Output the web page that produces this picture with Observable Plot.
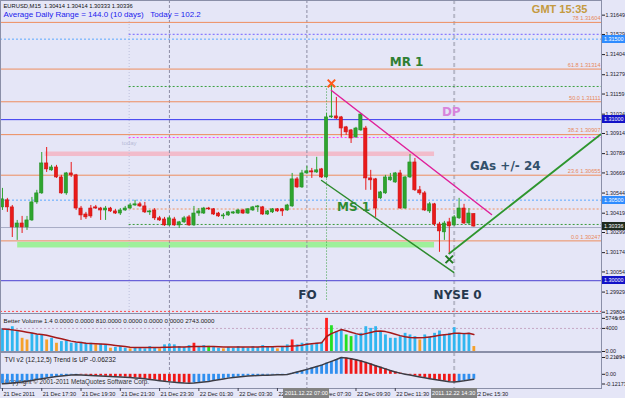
<!DOCTYPE html>
<html><head><meta charset="utf-8">
<script src="https://cdn.jsdelivr.net/npm/d3@7"></script>
<script src="https://cdn.jsdelivr.net/npm/@observablehq/plot@0.6"></script>
<style>
html,body{margin:0;padding:0;background:#e5e6f7;}
#wrap{position:relative;width:625px;height:398px;overflow:hidden;background:#e5e6f7;font-family:"Liberation Sans",Arial,sans-serif;}
.tag{position:absolute;color:#fff;white-space:nowrap;overflow:hidden;}
</style></head><body><div id="wrap"></div>
<script>
// ---------- DATA ----------
const open  = [1.30455,1.30499,1.30455,1.30331,1.30355,1.30331,1.30374,1.30486,1.30542,1.30728,
1.30685,1.30703,1.30641,1.30542,1.30666,1.30654,1.30448,1.30411,1.30448,1.30455,
1.30448,1.30436,1.30448,1.30430,1.30417,1.30436,1.30448,1.30467,1.30474,1.30461,
1.30424,1.30436,1.30387,1.30380,1.30343,1.30380,1.30343,1.30362,1.30393,1.30343,
1.30417,1.30417,1.30448,1.30443,1.30417,1.30399,1.30405,1.30417,1.30417,1.30436,
1.30417,1.30436,1.30455,1.30455,1.30411,1.30424,1.30443,1.30443,1.30436,1.30461,
1.30629,1.30579,1.30666,1.30679,1.30672,1.30691,1.30641,1.31014,1.31020,1.31014,
1.30952,1.30933,1.30890,1.30933,1.30945,1.30635,1.30629,1.30511,1.30542,1.30623,
1.30610,1.30666,1.30448,1.30641,1.30734,1.30561,1.30542,1.30430,1.30474,1.30349,
1.30300,1.30362,1.30343,1.30387,1.30448,1.30355,1.30414];
const high  = [1.30573,1.30511,1.30467,1.30374,1.30399,1.30399,1.30517,1.30561,1.30796,1.30827,
1.30716,1.30716,1.30654,1.30672,1.30734,1.30660,1.30461,1.30424,1.30467,1.30467,
1.30455,1.30461,1.30455,1.30443,1.30448,1.30461,1.30480,1.30499,1.30486,1.30486,
1.30436,1.30448,1.30399,1.30393,1.30399,1.30393,1.30368,1.30399,1.30405,1.30461,
1.30448,1.30455,1.30455,1.30448,1.30424,1.30417,1.30430,1.30430,1.30443,1.30443,
1.30448,1.30461,1.30467,1.30461,1.30436,1.30448,1.30448,1.30448,1.30474,1.30666,
1.30641,1.30685,1.30710,1.30697,1.30766,1.30697,1.31038,1.31219,1.31138,1.31020,
1.30958,1.30939,1.30952,1.31038,1.30958,1.30685,1.30635,1.30554,1.30654,1.30666,
1.30672,1.30685,1.30648,1.30784,1.30759,1.30585,1.30554,1.30486,1.30480,1.30362,
1.30368,1.30387,1.30405,1.30511,1.30474,1.30448,1.30414];
const low   = [1.30436,1.30424,1.30268,1.30250,1.30293,1.30312,1.30368,1.30474,1.30536,1.30672,
1.30679,1.30635,1.30536,1.30530,1.30641,1.30436,1.30374,1.30380,1.30387,1.30443,
1.30374,1.30374,1.30424,1.30411,1.30405,1.30430,1.30443,1.30461,1.30455,1.30417,
1.30405,1.30374,1.30368,1.30337,1.30337,1.30337,1.30324,1.30355,1.30337,1.30337,
1.30399,1.30411,1.30436,1.30405,1.30393,1.30380,1.30399,1.30411,1.30411,1.30411,
1.30411,1.30430,1.30424,1.30405,1.30405,1.30417,1.30424,1.30399,1.30430,1.30455,
1.30573,1.30573,1.30660,1.30635,1.30666,1.30635,1.30635,1.31007,1.31001,1.30890,
1.30902,1.30852,1.30883,1.30927,1.30561,1.30561,1.30393,1.30505,1.30536,1.30617,
1.30604,1.30443,1.30443,1.30635,1.30554,1.30530,1.30430,1.30417,1.30337,1.30176,
1.30250,1.30163,1.30337,1.30380,1.30349,1.30343,1.30333];
const close = [1.30505,1.30455,1.30331,1.30355,1.30331,1.30374,1.30486,1.30542,1.30728,1.30691,
1.30703,1.30641,1.30542,1.30666,1.30654,1.30448,1.30405,1.30393,1.30399,1.30448,
1.30436,1.30448,1.30430,1.30417,1.30436,1.30448,1.30467,1.30474,1.30461,1.30424,
1.30430,1.30387,1.30374,1.30343,1.30387,1.30343,1.30362,1.30387,1.30343,1.30417,
1.30430,1.30448,1.30443,1.30411,1.30399,1.30405,1.30424,1.30424,1.30436,1.30417,
1.30443,1.30455,1.30461,1.30411,1.30430,1.30443,1.30430,1.30430,1.30467,1.30629,
1.30579,1.30666,1.30679,1.30672,1.30685,1.30641,1.31014,1.31020,1.31007,1.30945,
1.30921,1.30883,1.30945,1.31032,1.30635,1.30623,1.30448,1.30548,1.30641,1.30641,
1.30666,1.30448,1.30641,1.30734,1.30561,1.30542,1.30436,1.30474,1.30349,1.30306,
1.30355,1.30337,1.30393,1.30448,1.30355,1.30417,1.30336];

const volume = [3900,3900,4300,3440,2290,2000,3150,2870,2870,2000,
2290,1430,1720,1830,1430,1430,1600,1430,1430,1150,
1260,1150,570,690,860,570,460,690,570,460,
860,690,460,1150,1260,1150,860,690,1030,1430,
860,1030,900,690,570,460,690,570,860,690,
570,860,690,1030,860,690,460,690,1150,2000,
1150,1430,1430,1150,1430,1600,5746.65,4470,3440,3720,
2870,2580,2870,3150,4300,4010,4300,3440,2870,2290,
2290,2580,3150,2870,2580,2000,2870,2580,3150,3550,
2870,3150,4120,3150,3150,3150,860];
const volumeType = "bbbboobbbo"+"bobbbbbbbo"+"bbobbbobbb"+"bbobbbbbbr"+"bbgbbobbbb"+"bbbbbbobbr"+"bbbbbbrgbb"+"ggbbbbbbbb"+"bbbbbobbbb"+"bbbbbbo";
const volumeMA = [3900,3850,3750,3650,3500,3350,3200,3050,2950,2800,
2600,2400,2200,2000,1800,1650,1550,1450,1400,1350,
1300,1250,1150,1050,950,850,750,700,680,680,
680,690,700,720,740,760,780,800,820,850,
860,860,860,850,830,800,790,780,780,790,
800,800,800,820,830,840,850,860,880,950,
1000,1100,1250,1350,1430,1500,2600,3100,3450,3800,
3600,3350,3100,2900,3100,3300,3500,3550,3450,3250,
3000,2750,2550,2420,2400,2400,2420,2500,2650,2800,
2900,3000,3150,3150,3100,3150,2950];
const volumeTicks = [5746.65,4000,0];
const volumeTickLabels = ["5746.65","4000","0.00"];

const tvi = [-0.120,-0.115,-0.110,-0.104,-0.097,-0.088,-0.078,-0.066,-0.055,-0.045,
-0.036,-0.029,-0.022,-0.016,-0.010,-0.006,-0.008,-0.011,-0.015,-0.019,
-0.022,-0.025,-0.027,-0.030,-0.033,-0.036,-0.040,-0.045,-0.050,-0.057,
-0.064,-0.072,-0.080,-0.088,-0.095,-0.101,-0.106,-0.110,-0.112,-0.109,
-0.104,-0.097,-0.089,-0.079,-0.068,-0.058,-0.048,-0.040,-0.033,-0.027,
-0.022,-0.018,-0.015,-0.013,-0.011,-0.009,-0.007,-0.005,-0.002,0.012,
0.028,0.045,0.062,0.080,0.097,0.115,0.140,0.162,0.185,0.211,
0.205,0.195,0.182,0.168,0.150,0.130,0.108,0.088,0.068,0.048,
0.030,0.015,0.002,-0.010,-0.022,-0.033,-0.044,-0.055,-0.065,-0.075,
-0.084,-0.092,-0.098,-0.090,-0.082,-0.072,-0.06232];
const tviTicks = [0.21094,0,-0.12173];
const tviTickLabels = ["0.21094","0.00","-0.12173"];

const priceTicks = [1.31649,1.31529,1.31404,1.31279,1.31159,1.31034,1.30914,1.30789,1.30669,1.30544,1.30419,1.30299,1.30174,1.30054,1.29929,1.29804];
const fibPrices = [1.31604,1.31314,1.31111,1.30907,1.30655,1.30247];
const fibNames  = ["78","61.8","50.0","38.2","23.6","0.0"];
const tagPrices = [1.31500,1.31000,1.30500,1.30336,1.30000];
const timeBars   = [0,8,16,24,32,40,48,56,64,72,80,88,96];
const timeLabels = ["21 Dec 2011","21 Dec 17:30","21 Dec 19:30","21 Dec 21:30","21 Dec 23:30","22 Dec 01:30","22 Dec 03:30","22 Dec 05:30","22 Dec 07:30","22 Dec 09:30","22 Dec 11:30","22 Dec 13:30","22 Dec 15:30"];
const timeTagBars = [62,92];
const timeTagLabels = ["2011.12.22 07:00","2011.12.22 14:30"];
const separatorBars = [34,62];
const nyseBar = 92, todayBar = 25.8;
const pivotPrices = [1.31529,1.31206,1.30889,1.30445,1.30349];
const bidPrice = 1.30330;
const todayBand = {from:8.7, to:88, lo:1.30771, hi:1.30799};
const supportBand = {from:3.1, to:88, lo:1.30203, hi:1.30238};
const channelTop = [{bar:67,price:1.31181},{bar:99.6,price:1.30411}];
const channelBottom = [{bar:65,price:1.30622},{bar:91.9,price:1.30051}];
const gasLine = [{bar:91,price:1.30169},{bar:121.8,price:1.30908}];
const crossHigh = {bar:67,price:1.31225};
const crossLow = {bar:91,price:1.30132};
const foLine = {bar:66,top:1.31190,bottom:1.29877};
const notes = [
 {label:"MR 1",bar:82.3,price:1.31355},
 {label:"DP",bar:91.4,price:1.31044},
 {label:"GAs +/- 24",bar:102.4,price:1.30709},
 {label:"MS 1",bar:71.5,price:1.30455},
 {label:"FO",bar:62.1,price:1.29908},
 {label:"NYSE 0",bar:92.7,price:1.29908}];
const noteColors = ["#2f7f33","#d884dc","#33506b","#2e8b34","#26384e","#26384e"];

// ---------- BUILD ----------
const F = "'Liberation Sans', Arial, sans-serif";
const candles = open.map((o,i)=>({i,o,h:high[i],l:low[i],c:close[i],up:close[i]>=o}));
const volRows = volume.map((v,i)=>({i,v,t:volumeType[i]}));
const maRows = volumeMA.map((v,i)=>({i,v}));
const tviRows = tvi.map((v,i)=>({i,v,up: i===0 || v>=tvi[i-1]}));
const volColor = {b:"#30b6f0",o:"#f5a02a",r:"#ff1e1e",g:"#22e022"};
const GRN="#2ea52e", RED="#ea1a1a";
const frameColor = "#8a8fa8";
const AX = {anchor:"right",tickSize:3,tickPadding:1,fontSize:5.4,fill:"#202028",stroke:"#202028"};

function base(h, mt, mb){
  return {width:625,height:h,marginLeft:0,marginRight:24,marginTop:mt,marginBottom:mb,
    x:{type:"linear",domain:[-0.4,122],axis:null},
    style:{background:"transparent",overflow:"visible",fontFamily:F}};
}
function seps(){
  return [
    Plot.ruleX(separatorBars,{stroke:"#8c8ca4",strokeDasharray:"3,2"}),
    Plot.ruleX([nyseBar],{stroke:"#b6b8c8",strokeWidth:2,strokeDasharray:"4,3"})
  ];
}

const main = Plot.plot({...base(313,0,0),
  y:{domain:[1.29796,1.31740],axis:null},
  marks:[
    Plot.rect([todayBand],{x1:"from",x2:"to",y1:"lo",y2:"hi",fill:"#f2bccb"}),
    Plot.rect([supportBand],{x1:"from",x2:"to",y1:"lo",y2:"hi",fill:"#9ef09a"}),
    Plot.ruleX([todayBar],{stroke:"#bcc0dc",strokeDasharray:"1,2"}),
    ...seps(),
    Plot.ruleY(fibPrices,{stroke:"#ee8d5e"}),
    Plot.ruleY([tagPrices[0],tagPrices[2]],{stroke:"#5aa8ff",strokeDasharray:"2,2"}),
    Plot.ruleY([tagPrices[1]],{stroke:"#3434f0"}),
    Plot.ruleY([tagPrices[4]],{stroke:"#6a62d8",strokeWidth:1.2}),
    Plot.ruleY([pivotPrices[0]],{x1:todayBar,x2:122,stroke:"#8a7cff",strokeDasharray:"2,2",strokeWidth:1.2}),
    Plot.ruleY([pivotPrices[1]],{x1:todayBar,x2:122,stroke:"#3aa040",strokeDasharray:"2,2"}),
    Plot.ruleY([pivotPrices[2]],{x1:todayBar,x2:122,stroke:"#ff3cff",strokeDasharray:"2,2"}),
    Plot.ruleY([pivotPrices[3]],{x1:todayBar,x2:122,stroke:"#f0905e",strokeDasharray:"2,2"}),
    Plot.ruleY([pivotPrices[4]],{x1:todayBar,x2:122,stroke:"#3a9a3a",strokeDasharray:"2,2"}),
    Plot.ruleY([bidPrice],{stroke:"#a8acc6"}),
    Plot.ruleY([priceTicks[15]+0.00005],{stroke:"#ff4a4a",strokeDasharray:"2,2"}),
    Plot.ruleX([foLine],{x:"bar",y1:"top",y2:"bottom",stroke:"#3aa040",strokeDasharray:"1,2"}),
    Plot.ruleX(candles,{x:"i",y1:"l",y2:"h",stroke:d=>d.up?GRN:RED,strokeWidth:1}),
    Plot.rect(candles,{x1:d=>d.i-0.33,x2:d=>d.i+0.33,y1:"o",y2:"c",fill:d=>d.up?GRN:RED,stroke:d=>d.up?"#238f23":"#cc1212",strokeWidth:0.6}),
    Plot.line(channelTop,{x:"bar",y:"price",stroke:"#e0209a",strokeWidth:1.5}),
    Plot.line(channelBottom,{x:"bar",y:"price",stroke:"#2e8b2e",strokeWidth:1.5}),
    Plot.line(gasLine,{x:"bar",y:"price",stroke:"#2e962e",strokeWidth:1.8}),
    Plot.dot([crossHigh],{x:"bar",y:"price",symbol:"times",r:3.5,stroke:"#ff5a1a",strokeWidth:2}),
    Plot.dot([crossLow],{x:"bar",y:"price",symbol:"times",r:3.5,stroke:"#1f7a1f",strokeWidth:2}),
    Plot.text(notes,{x:"bar",y:"price",text:"label",fill:(d,i)=>noteColors[i],fontWeight:"bold",fontSize:12,fontFamily:"'DejaVu Sans',Verdana,sans-serif"}),
    Plot.text(fibPrices,{y:d=>d,text:(d,i)=>fibNames[i]+" "+d.toFixed(5),frameAnchor:"right",textAnchor:"end",dx:-1,dy:-4,fontSize:5.6,fill:"#e8865a"}),
    Plot.text(["today"],{x:todayBar,y:1.30852,fontSize:6,fill:"#b8bcd8"}),
    Plot.text(["EURUSD,M15  1.30414 1.30414 1.30333 1.30336"],{frameAnchor:"top-left",lineAnchor:"middle",dx:3,dy:6,fontSize:5.8,fill:"#101010"}),
    Plot.text(["Average Daily Range = 144.0 (10 days)\u00a0\u00a0\u00a0Today = 102.2"],{frameAnchor:"top-left",lineAnchor:"middle",dx:3,dy:14,fontSize:8,fill:"#1c1cee"}),
    Plot.text(["GMT 15:35"],{frameAnchor:"top-right",lineAnchor:"middle",textAnchor:"end",dx:-14,dy:9,fontSize:11,fontWeight:"bold",fill:"#c49a40"}),
    Plot.axisY(priceTicks,{...AX,tickFormat:d=>d.toFixed(5)}),
    Plot.frame({stroke:frameColor})
  ]});

const vol = Plot.plot({...base(39,0,1),
  y:{domain:[0,6590],axis:null},
  marks:[
    Plot.ruleY([4000],{stroke:"#c6a8c4",strokeDasharray:"2,2"}),
    ...seps(),
    Plot.ruleX(volRows,{x:"i",y1:0,y2:"v",stroke:d=>volColor[d.t],strokeWidth:2.8}),
    Plot.line(maRows,{x:"i",y:"v",stroke:"#a51818",strokeWidth:1.5}),
    Plot.text(["Better Volume 1.4 0.0000 0.0000 810.0000 0.0000 0.0000 0.0000 2743.0000"],{frameAnchor:"top-left",lineAnchor:"middle",dx:3,dy:8,fontSize:6.2,fill:"#202020"}),
    Plot.axisY(volumeTicks,{...AX,tickFormat:(d,i)=>volumeTickLabels[volumeTicks.indexOf(d)]}),
    Plot.frame({stroke:frameColor})
  ]});

const tv = Plot.plot({...base(36,0,0),
  y:{domain:[-0.1782,0.2737],axis:null},
  marks:[
    Plot.text(["Copyright \u00a9 2001-2011 MetaQuotes Software Corp."],{frameAnchor:"bottom-left",lineAnchor:"middle",dx:4,dy:-7,fontSize:6.3,fill:"#303030"}),
    ...seps(),
    Plot.ruleX(tviRows,{x:"i",y1:0,y2:"v",stroke:d=>d.up?"#2f8fef":"#f01818",strokeWidth:2.8}),
    Plot.line(tviRows,{x:"i",y:"v",stroke:"#3c3c44",strokeWidth:1.5}),
    Plot.text(["TVI v2 (12,12,5) Trend is UP -0.06232"],{frameAnchor:"top-left",lineAnchor:"middle",dx:4,dy:7,fontSize:6.6,fill:"#202020"}),
    Plot.axisY(tviTicks,{...AX,tickFormat:(d)=>tviTickLabels[tviTicks.indexOf(d)]}),
    Plot.frame({stroke:frameColor})
  ]});

const strip = Plot.plot({...base(10,0,0),
  y:{domain:[0,1],axis:null},
  marks:[
    Plot.ruleX(timeBars,{stroke:"#404050",insetBottom:7}),
    Plot.text(timeBars,{x:d=>d,text:(d,i)=>timeLabels[i],textAnchor:"start",dx:1,dy:1,fontSize:5.6,fill:"#202028"})
  ]});

const wrap = document.getElementById("wrap");
function place(el, top){ el.style.position="absolute"; el.style.left="0px"; el.style.top=top+"px"; wrap.appendChild(el); }
place(main,0); place(vol,313); place(tv,352); place(strip,388);

// price tags on the right axis
const tagBg = ["#2f8cff","#1212c8","#2f8cff","#1e2b1e","#1212c8"];
const ys = main.scale("y");
tagPrices.forEach((p,k)=>{
  const d = document.createElement("div");
  d.className="tag";
  d.textContent = p.toFixed(5);
  const y = ys.apply(p);
  Object.assign(d.style,{left:"602px",top:(y-4)+"px",width:"23px",height:"8px",background:tagBg[k],fontSize:"5.4px",lineHeight:"8px",paddingLeft:"2px"});
  wrap.appendChild(d);
});
// time tags on the x axis
const xs = strip.scale("x");
timeTagBars.forEach((b,k)=>{
  const d = document.createElement("div");
  d.className="tag";
  d.textContent = timeTagLabels[k];
  const x = xs.apply(b);
  Object.assign(d.style,{left:(x-23)+"px",top:"388px",width:"46px",height:"10px",background:"#828282",fontSize:"5.6px",lineHeight:"10px",textAlign:"center"});
  wrap.appendChild(d);
});
</script></body></html>
